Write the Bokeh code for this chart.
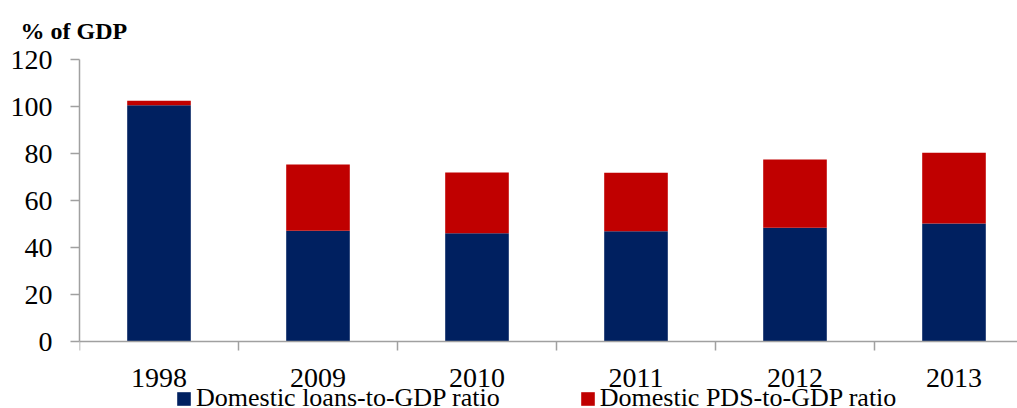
from bokeh.plotting import figure
from bokeh.models import ColumnDataSource, Range1d, FixedTicker, Legend, LegendItem
from bokeh.embed import file_html
from bokeh.resources import INLINE

years = ["1998", "2009", "2010", "2011", "2012", "2013"]
loans = [100.5, 47.1, 46.1, 46.9, 48.4, 50.2]
pds = [1.9, 28.2, 25.8, 24.9, 29.0, 30.1]
y_ticks = [0, 20, 40, 60, 80, 100, 120]

SERIF = "Liberation Serif"
BLUE = "#002060"
RED = "#C00000"
AXIS = "#a0a0a0"

# frame: top at 59 px (value 120), value 0 at 341 px, frame runs to the bottom (408 px)
PX_PER_UNIT = 282 / 120
Y_MIN = 120 - (408 - 59) / PX_PER_UNIT

xs = list(range(len(years)))
src = ColumnDataSource(dict(x=xs, loans=loans, pds=pds))

p = figure(width=1017, height=408, output_backend="svg", toolbar_location=None,
           x_range=Range1d(-0.5, -0.5 + 938 / 159), y_range=Range1d(Y_MIN, 120))
p.min_border_left = 79
p.min_border_right = 0
p.min_border_top = 59
p.min_border_bottom = 0
p.outline_line_color = None
p.grid.visible = False
p.background_fill_color = "white"
p.border_fill_color = "white"

r = p.vbar_stack(["loans", "pds"], x="x", width=0.4, source=src,
                 color=[BLUE, RED], line_color=None)

# y axis
p.yaxis.ticker = FixedTicker(ticks=y_ticks)
p.yaxis.bounds = (0, 120)
p.yaxis.axis_line_color = AXIS
p.yaxis.axis_line_width = 1.5
p.yaxis.major_tick_line_color = AXIS
p.yaxis.major_tick_line_width = 1.5
p.yaxis.major_tick_out = 9
p.yaxis.major_tick_in = 0
p.yaxis.minor_tick_line_color = None
p.yaxis.major_label_standoff = 18
p.yaxis.major_label_text_font = SERIF
p.yaxis.major_label_text_font_size = "28px"
p.yaxis.major_label_text_color = "black"

# x axis, pinned at value 0
p.xaxis.fixed_location = 0
p.xaxis.ticker = FixedTicker(ticks=xs, minor_ticks=[i - 0.5 for i in xs] + [xs[-1] + 0.5])
p.xaxis.major_label_overrides = {i: y for i, y in zip(xs, years)}
p.xaxis.axis_line_color = AXIS
p.xaxis.axis_line_width = 1.5
p.xaxis.major_tick_line_color = None
p.xaxis.major_tick_out = 0
p.xaxis.major_tick_in = 0
p.xaxis.minor_tick_line_color = AXIS
p.xaxis.minor_tick_line_width = 1.5
p.xaxis.minor_tick_out = 9
p.xaxis.minor_tick_in = 0
p.xaxis.major_label_standoff = 18
p.xaxis.major_label_text_font = SERIF
p.xaxis.major_label_text_font_size = "28px"
p.xaxis.major_label_text_color = "black"

# title
p.title.text = "% of GDP"
p.title.align = "left"
p.title.offset = -59
p.title.standoff = 31
p.title.text_font = SERIF
p.title.text_font_size = "24px"
p.title.text_font_style = "bold"
p.title.text_color = "black"

legend = Legend(items=[LegendItem(label="Domestic loans-to-GDP ratio", renderers=[r[0]]),
                       LegendItem(label="Domestic PDS-to-GDP ratio", renderers=[r[1]])],
                orientation="horizontal", location=(96, -5))
legend.background_fill_alpha = 0
legend.border_line_color = None
legend.label_text_font = SERIF
legend.label_text_font_size = "26px"
legend.label_text_color = "black"
legend.glyph_width = 17
legend.glyph_height = 17
legend.label_standoff = 4
legend.spacing = 79
legend.padding = 0
legend.margin = 0
p.add_layout(legend, "center")

open("out.html", "w").write(file_html(p, INLINE))
